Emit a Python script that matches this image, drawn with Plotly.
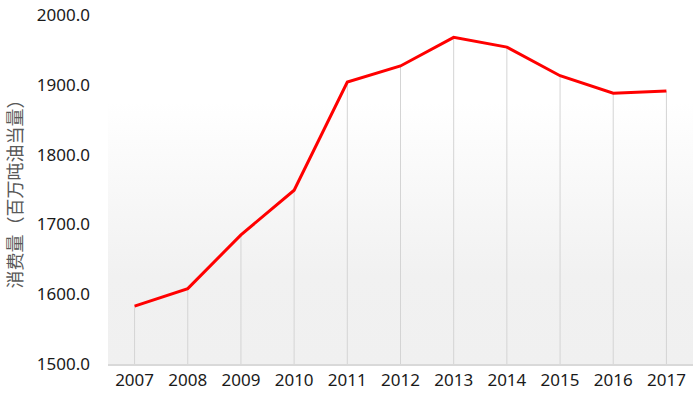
import plotly.graph_objects as go
import base64

years = ["2007", "2008", "2009", "2010", "2011", "2012", "2013", "2014", "2015", "2016", "2017"]
consumption = [1583.0, 1608.0, 1685.0, 1749.0, 1904.0, 1927.0, 1968.0, 1954.0, 1913.0, 1888.0, 1891.0]
y_ticks = [1500, 1600, 1700, 1800, 1900, 2000]
y_tick_labels = ["1500.0", "1600.0", "1700.0", "1800.0", "1900.0", "2000.0"]
y_title = "消费量（百万吨油当量）"
y_min = 1500

svg = ('<svg xmlns="http://www.w3.org/2000/svg" width="100" height="100" preserveAspectRatio="none">'
       '<defs><linearGradient id="g" x1="0" y1="0" x2="0" y2="1">'
       '<stop offset="0" stop-color="#ffffff"/><stop offset="0.25" stop-color="#ffffff"/>'
       '<stop offset="0.75" stop-color="#f1f1f1"/><stop offset="1" stop-color="#f0f0f0"/>'
       '</linearGradient></defs><rect width="100" height="100" fill="url(#g)"/></svg>')
bg_src = "data:image/svg+xml;base64," + base64.b64encode(svg.encode()).decode()

drop = [v - y_min for v in consumption]

fig = go.Figure()
fig.add_trace(go.Scatter(
    x=years, y=consumption, mode="markers",
    marker=dict(size=1, color="rgba(0,0,0,0)"),
    error_y=dict(type="data", symmetric=False, array=[0]*len(drop), arrayminus=drop,
                 color="#d4d4d4", thickness=1, width=0),
    hoverinfo="skip", showlegend=False))
fig.add_trace(go.Scatter(
    x=years, y=consumption, mode="lines",
    line=dict(color="#ff0000", width=3), showlegend=False))

fig.update_layout(
    width=700, height=393,
    margin=dict(l=108, r=7, t=15, b=29),
    paper_bgcolor="white", plot_bgcolor="rgba(0,0,0,0)",
    images=[dict(source=bg_src, xref="paper", yref="paper", x=0, y=1, sizex=1, sizey=1,
                 sizing="stretch", xanchor="left", yanchor="top", layer="below")],
    font=dict(family="Noto Sans, Noto Sans CJK SC", size=17, color="#1a1a1a"),
)
fig.update_xaxes(type="category", range=[-0.5, len(years) - 0.5], showgrid=False, showline=True,
                 linecolor="#d9d9d9", linewidth=2, ticks="", automargin=False,
                 tickfont=dict(size=17, color="#1a1a1a"))
fig.update_yaxes(range=[1500, 2000], tickvals=y_ticks, ticktext=y_tick_labels, showgrid=False,
                 zeroline=False, showline=False, ticks="", ticklabelstandoff=17, automargin=False,
                 tickfont=dict(size=17, color="#1a1a1a"),
                 title=dict(text=y_title, font=dict(family="Noto Sans CJK SC", size=18, color="#595959"),
                            standoff=9))

fig.write_html("out.html", config={"displayModeBar": False},
               post_script="document.body.style.margin='0';document.body.style.overflow='hidden';")
